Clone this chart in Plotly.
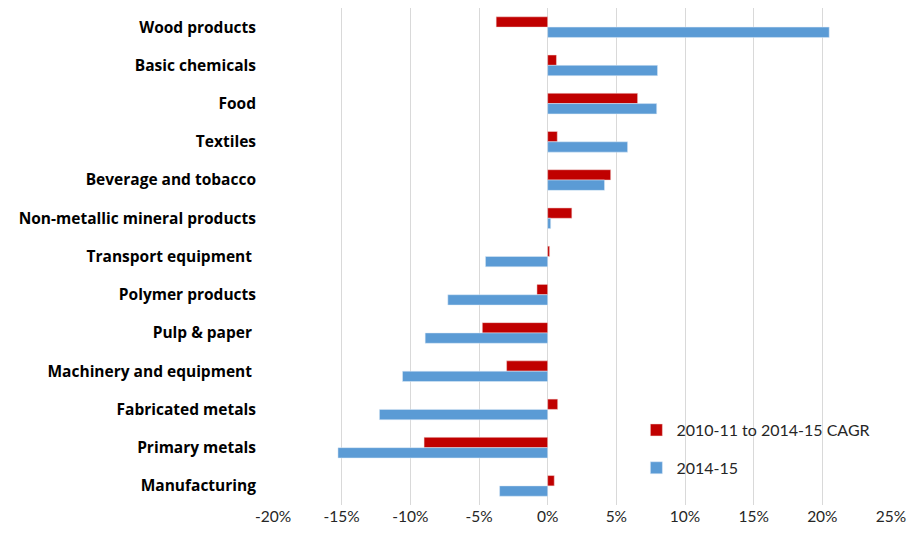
import plotly.graph_objects as go

categories = [
    "Wood products", "Basic chemicals", "Food", "Textiles",
    "Beverage and tobacco", "Non-metallic mineral products",
    "Transport equipment ", "Polymer products", "Pulp & paper ",
    "Machinery and equipment ", "Fabricated metals", "Primary metals",
    "Manufacturing",
]
cagr = [-3.75, 0.64, 6.55, 0.7, 4.59, 1.76, 0.14, -0.78, -4.76, -2.99, 0.73, -9.0, 0.48]
y2014 = [20.5, 8.0, 7.94, 5.82, 4.14, 0.22, -4.53, -7.27, -8.92, -10.57, -12.25, -15.27, -3.5]
tick_vals = [-20, -15, -10, -5, 0, 5, 10, 15, 20, 25]
tick_text = ["-20%", "-15%", "-10%", "-5%", "0%", "5%", "10%", "15%", "20%", "25%"]

FONT = "Lato"
LABEL_FONT = "Open Sans"

fig = go.Figure()
fig.add_trace(go.Bar(
    y=categories, x=cagr, orientation="h", name="2010-11 to 2014-15 CAGR",
    marker=dict(color="#C00000", line=dict(color="#F2DCDB", width=0.5)),
    legendgroup="a",
))
fig.add_trace(go.Bar(
    y=categories, x=y2014, orientation="h", name="2014-15",
    marker=dict(color="#5B9BD5", line=dict(color="#DEEBF7", width=0.5)),
    legendgroup="b",
))

fig.update_layout(
    width=919, height=538,
    margin=dict(l=273, r=28, t=8, b=33),
    paper_bgcolor="white", plot_bgcolor="white",
    barmode="group", bargap=0.46, bargroupgap=0,
    font=dict(family=FONT, size=15, color="#262626"),
    showlegend=True,
    legend=dict(
        x=0.588, y=0.185, xanchor="left", yanchor="top",
        traceorder="grouped", tracegroupgap=14,
        bgcolor="rgba(0,0,0,0)",
        font=dict(family=FONT, size=16, color="#262626"),
        itemwidth=30,
    ),
    xaxis=dict(
        range=[-20, 25], tickvals=tick_vals, ticktext=tick_text,
        showgrid=True, gridcolor="#D9D9D9", gridwidth=1,
        zeroline=False, showline=False, ticks="",
        tickfont=dict(family=FONT, size=15.5, color="#262626"),
        fixedrange=True,
    ),
    yaxis=dict(
        type="category", autorange="reversed",
        showgrid=False, zeroline=False, showline=False, ticks="",
        tickfont=dict(family=LABEL_FONT, size=15.5, color="#000000", weight="bold"),
        ticklabelstandoff=16,
        fixedrange=True,
    ),
)

fig.write_html("out.html")
